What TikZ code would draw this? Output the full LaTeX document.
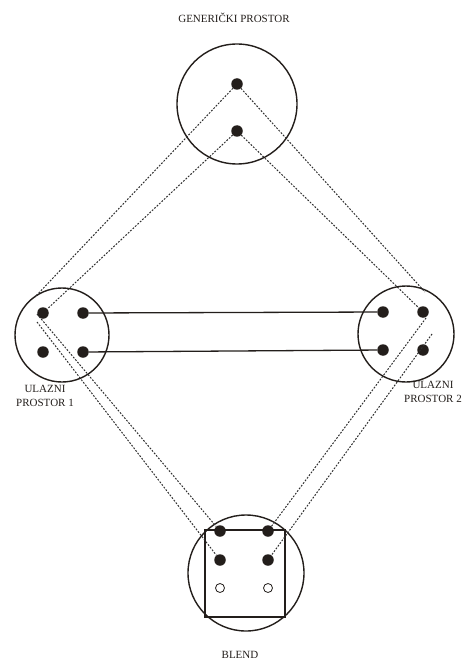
\documentclass[tikz,border=0pt]{standalone}
\usepackage{fontspec}
\setmainfont{Liberation Serif}
\definecolor{ink}{HTML}{231E1B}
\definecolor{dashc}{HTML}{2E2E2E}
\begin{document}
\begin{tikzpicture}[x=1pt,y=-1pt,
  space/.style={circle,draw=ink,line width=1.4pt,inner sep=0pt},
  dot/.style={circle,fill=ink,inner sep=0pt,minimum size=11.5pt},
  hole/.style={circle,draw=ink,line width=0.8pt,fill=white,inner sep=0pt,minimum size=9pt},
  frame/.style={draw=ink,line width=1.2pt,inner sep=0pt},
  tie/.style={draw=ink,line width=1.3pt},
  link/.style={draw=dashc,line width=1pt,dash pattern=on 1.8pt off 1.5pt},
  lab/.style={font=\fontsize{11}{14}\selectfont,text=ink,align=center,inner sep=0pt}
  ]
\useasboundingbox (0,0) rectangle (472,663);

% spaces
\node[space,minimum size=120pt] (G) at (237,104) {};
\node[space,minimum size=94pt] (I1) at (62,335) {};
\node[space,minimum size=96pt] (I2) at (406,334) {};
\node[space,minimum size=116pt] (B) at (246,573) {};
\node[frame,minimum width=80pt,minimum height=87pt] (F) at (245,573.5) {};

% labels
\node[lab] (tG) at (234,18) {GENERIČKI PROSTOR};
\node[lab] (tI1) at (45,396) {ULAZNI\\PROSTOR 1};
\node[lab] (tI2) at (433,392) {ULAZNI\\PROSTOR 2};
\node[lab] (tB) at (240,655) {BLEND};

% helper points for dashed links
\coordinate (la) at (35,297);
\coordinate (lb) at (37,314);
\coordinate (lc) at (37,322);
\coordinate (ra) at (425,292);
\coordinate (rb) at (426,318);
\coordinate (rc) at (432,334);

% dots
\node[dot] (g1) at (237,84) {};
\node[dot] (g2) at (237,131) {};
\node[dot] (a1) at (43,313) {};
\node[dot] (a2) at (83,313) {};
\node[dot] (a3) at (43,352) {};
\node[dot] (a4) at (83,352) {};
\node[dot] (b1) at (383,312) {};
\node[dot] (b2) at (423,312) {};
\node[dot] (b3) at (383,350) {};
\node[dot] (b4) at (423,350) {};
\node[dot] (c1) at (220,531) {};
\node[dot] (c2) at (268,531) {};
\node[dot] (c3) at (220,560) {};
\node[dot] (c4) at (268,560) {};
\node[hole] (o1) at (220,588) {};
\node[hole] (o2) at (268,588) {};

% dashed links
\draw[link] (g1) -- (la);
\draw[link] (g2) -- (a1);
\draw[link] (lb) -- (c1);
\draw[link] (lc) -- (c3);
\draw[link] (g1) -- (ra);
\draw[link] (g2) -- (b2);
\draw[link] (rb) -- (c2);
\draw[link] (rc) -- (c4);

% solid ties
\draw[tie] (a2) -- (b1);
\draw[tie] (a4) -- (b3);
\end{tikzpicture}
\end{document}
